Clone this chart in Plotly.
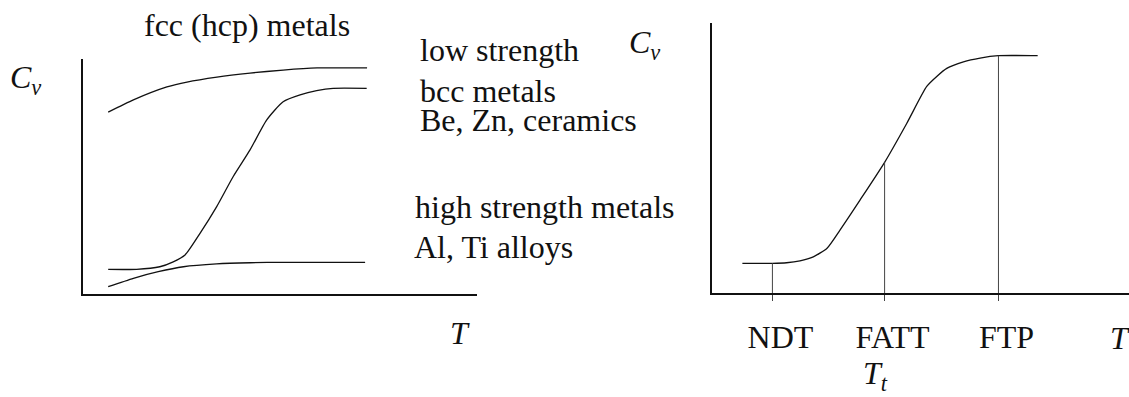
import plotly.graph_objects as go

# left panel: Charpy energy vs temperature for three material classes
# (schematic, arbitrary units 0..10 on both axes)
fcc_T = [0.64, 1.28, 2.13, 2.64, 3.40, 4.24, 5.08, 5.94, 7.21]
fcc_Cv = [7.74, 8.26, 8.81, 9.02, 9.23, 9.40, 9.53, 9.62, 9.62]

bcc_T = [0.64, 1.36, 1.95, 2.29, 2.59, 2.97, 3.39, 3.81, 4.24, 4.66, 5.08, 5.51, 5.93, 6.35, 7.20]
bcc_Cv = [1.05, 1.05, 1.16, 1.37, 1.66, 2.58, 3.71, 4.99, 6.13, 7.40, 8.18, 8.47, 8.65, 8.75, 8.75]

hs_T = [0.64, 1.28, 1.91, 2.55, 3.39, 4.24, 5.08, 7.16]
hs_Cv = [0.31, 0.67, 0.95, 1.16, 1.28, 1.33, 1.35, 1.35]

# right panel: transition curve with the characteristic temperatures
trans_T = [0.73, 1.45, 1.79, 2.11, 2.43, 2.76, 3.07, 3.55, 4.14, 4.67, 5.15, 5.39, 5.63, 6.03, 6.43, 6.87, 7.81]
trans_Cv = [1.10, 1.10, 1.12, 1.19, 1.34, 1.66, 2.33, 3.44, 4.84, 6.28, 7.65, 8.02, 8.32, 8.56, 8.70, 8.79, 8.79]

marker_names = ["NDT", "FATT", "FTP"]
marker_idx = [1, 8, 15]  # points of the transition curve they sit on

FONT = "'Liberation Serif', 'Times New Roman', serif"
INK = "#111"
SIZE = 32

LEFT_X = [0.0735, 0.4225]
LEFT_Y = [0.2594, 0.8514]
RIGHT_X = [0.6306, 1.0]
RIGHT_Y = [0.262, 0.942]


def to_paper(x, y, xdom, ydom):
    # axes run 0..10, annotations outside the range need paper coords
    return xdom[0] + x / 10 * (xdom[1] - xdom[0]), ydom[0] + y / 10 * (ydom[1] - ydom[0])


fig = go.Figure()

line_style = {"color": INK, "width": 1.3, "shape": "spline", "smoothing": 0.6}
for xs, ys in [(fcc_T, fcc_Cv), (bcc_T, bcc_Cv), (hs_T, hs_Cv)]:
    fig.add_trace(go.Scatter(x=xs, y=ys, mode="lines", line=line_style, xaxis="x", yaxis="y"))

fig.add_trace(go.Scatter(x=trans_T, y=trans_Cv, mode="lines", line=line_style, xaxis="x2", yaxis="y2"))
for i in marker_idx:
    fig.add_trace(
        go.Scatter(x=[trans_T[i], trans_T[i]], y=[0, trans_Cv[i]], mode="lines",
                   line={"color": "#444", "width": 1}, xaxis="x2", yaxis="y2")
    )

axis_common = dict(showgrid=False, zeroline=False, showline=True, linecolor=INK, linewidth=1.5,
                   range=[0, 10], fixedrange=True)

fig.update_layout(
    width=1129,
    height=397,
    margin={"l": 0, "r": 0, "t": 0, "b": 0},
    paper_bgcolor="white",
    plot_bgcolor="white",
    showlegend=False,
    font={"family": FONT, "size": SIZE, "color": INK},
    xaxis={**axis_common, "domain": LEFT_X, "showticklabels": False, "ticks": ""},
    yaxis={**axis_common, "domain": LEFT_Y, "showticklabels": False, "ticks": ""},
    xaxis2={**axis_common, "domain": RIGHT_X, "anchor": "y2",
            "tickmode": "array", "tickvals": [trans_T[i] for i in marker_idx], "ticktext": marker_names,
            "ticks": "outside", "ticklen": 6, "tickcolor": "#444", "tickwidth": 1,
            "ticklabelstandoff": 9, "ticklabelshift": 8,
            "tickfont": {"family": FONT, "size": SIZE, "color": INK}},
    yaxis2={**axis_common, "domain": RIGHT_Y, "anchor": "x2", "showticklabels": False, "ticks": ""},
)

left_notes = [
    ("fcc (hcp) metals", 4.16, 11.45, "center"),
    ("<i>C</i><sub><i>v</i></sub>", -1.47, 9.11, "center"),
    ("low strength", 8.50, 10.38, "left"),
    ("bcc metals", 8.50, 8.65, "left"),
    ("Be, Zn, ceramics", 8.50, 7.42, "left"),
    ("high strength metals", 8.38, 3.70, "left"),
    ("Al, Ti alloys", 8.35, 2.00, "left"),
    ("<i>T</i>", 9.57, -1.66, "center"),
]
right_notes = [
    ("<i>C</i><sub><i>v</i></sub>", -1.61, 9.19, "center"),
    ("<i>T</i>", 9.78, -1.67, "center"),
    ("<i>T</i><sub><i>t</i></sub>", 3.91, -3.05, "center"),
]
for notes, xdom, ydom in [(left_notes, LEFT_X, LEFT_Y), (right_notes, RIGHT_X, RIGHT_Y)]:
    for text, x, y, anchor in notes:
        px, py = to_paper(x, y, xdom, ydom)
        fig.add_annotation(text=text, x=px, y=py, xref="paper", yref="paper", xanchor=anchor,
                           yanchor="middle", showarrow=False,
                           font={"family": FONT, "size": SIZE, "color": INK})

fig.write_html("out.html", config={"displayModeBar": False},
               post_script="document.body.style.margin = '0';")
